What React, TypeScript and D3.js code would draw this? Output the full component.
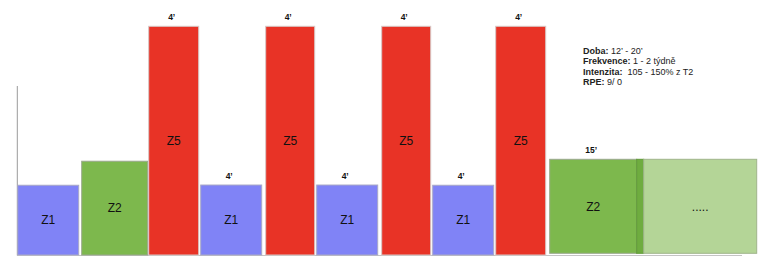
import React from "react";
import * as d3 from "d3";

const zones = ["Z1", "Z2", "Z5", "Z1", "Z5", "Z1", "Z5", "Z1", "Z5", "Z2", "Z2s", "Z2x"];
const labels = ["Z1", "Z2", "Z5", "Z1", "Z5", "Z1", "Z5", "Z1", "Z5", "Z2", "", "....."];
const starts = [0, 64, 131, 183, 248, 299, 364, 415, 478, 532, 619, 626];
const ends = [61, 130, 181, 244, 297, 360, 413, 476, 528, 619, 626, 739];
const intensity = [3.05, 4.1, 10, 3.06, 10, 3.06, 10, 3.05, 10, 4.1, 4.1, 4.1];
const durationLabels = ["", "", "4’", "4’", "4’", "4’", "4’", "4’", "4’", "15’", "", ""];
const infoKeys = ["Doba:", "Frekvence:", "Intenzita:", "RPE:"];
const infoValues = [" 12’ - 20’", " 1 - 2 týdně", "  105 - 150% z T2", " 9/ 0"];

const fills: Record<string, string> = {
  Z1: "#8083f6",
  Z2: "#7db84d",
  Z5: "#e83326",
  Z2s: "#6fac40",
  Z2x: "#b4d597",
};
const strokes: Record<string, string> = {
  Z1: "#a9a9c6",
  Z2: "#9aa88e",
  Z5: "#d8c8c6",
  Z2s: "#5f9a36",
  Z2x: "#9fb58b",
};

export default function App() {
  const W = 768;
  const H = 263;
  const x = d3.scaleLinear().domain([0, 739]).range([17.7, 756.7]);
  const y = d3.scaleLinear().domain([0, 10]).range([255, 26.3]);
  const font = "'Liberation Sans', Arial, Helvetica, sans-serif";

  return (
    <svg
      width={W}
      height={H}
      style={{ position: "absolute", left: 0, top: 0, background: "#fff" }}
      fontFamily={font}
    >
      <line x1={17.3} x2={17.3} y1={86} y2={255.5} stroke="#9a9a9a" strokeWidth={1} />
      <line x1={17} x2={742} y1={255.5} y2={255.5} stroke="#c4c4c4" strokeWidth={1.2} />
      {zones.map((z, i) => {
        const x0 = x(starts[i]);
        const x1 = x(ends[i]);
        const isLast = i >= 9;
        const bottom = isLast ? 253.3 : y(0);
        const top = isLast ? 159.3 : y(intensity[i]);
        return (
          <g key={i}>
            <rect
              x={x0}
              y={top}
              width={x1 - x0}
              height={bottom - top}
              fill={fills[z]}
              stroke={strokes[z]}
              strokeWidth={1}
            />
            {labels[i] && (
              <text
                x={(x0 + x1) / 2}
                y={(top + bottom) / 2 + 4.3}
                textAnchor="middle"
                fontSize={12}
                fill="#111"
              >
                {labels[i]}
              </text>
            )}
            {durationLabels[i] && (
              <text
                x={(x0 + x1) / 2 - 2}
                y={top - 6.5}
                textAnchor="middle"
                fontSize={8.5}
                fontWeight="bold"
                fill="#111"
              >
                {durationLabels[i]}
              </text>
            )}
          </g>
        );
      })}
      {infoKeys.map((k, i) => (
        <text key={k} x={583} y={53.8 + i * 10.4} fontSize={9} fill="#222">
          <tspan fontWeight="bold">{k}</tspan>
          <tspan xmlSpace="preserve">{infoValues[i]}</tspan>
        </text>
      ))}
    </svg>
  );
}
